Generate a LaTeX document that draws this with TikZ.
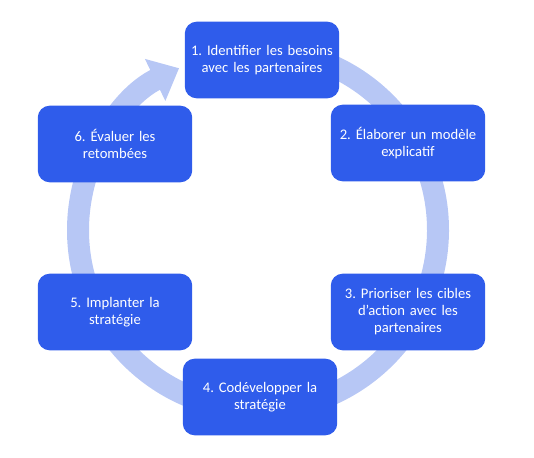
\documentclass[tikz,border=0pt]{standalone}
\usepackage{fontspec}
\setmainfont{Carlito}
\usepackage{tikz}
\usetikzlibrary{calc,arrows.meta,positioning}
\definecolor{phaseblue}{RGB}{47,92,235}
\definecolor{ringblue}{RGB}{183,199,245}
\frenchspacing

\begin{document}
\begin{tikzpicture}[>=Stealth,
    phase/.style={fill=phaseblue,rounded corners=0.36cm,minimum width=4.55cm,
      minimum height=2.3cm,text width=4.4cm,align=center,text=white,
      font=\fontsize{12.5}{14.5}\selectfont},
    ring/.style={ringblue,line width=0.66cm,-{Triangle[length=0.8cm,width=1.35cm]}}]
  \useasboundingbox (0,0) rectangle (16.02,13.71);
  \coordinate (c) at (7.74,6.81);
  % cycle behind the boxes
  \draw[ring] ($(c)+(85:5.4)$) arc[start angle=85,end angle=-244,radius=5.4];
  \node[phase] (s1) at (7.86,11.91) {1. Identifier les besoins\\avec les partenaires};
  \node[phase] (s2) at (12.24,9.42) {2. Élaborer un modèle\\explicatif};
  \node[phase] (s3) at (12.24,4.35) {3. Prioriser les cibles\\d’action avec les\\partenaires};
  \node[phase] (s4) at (7.80,1.80) {4. Codévelopper la\\stratégie};
  \node[phase] (s5) at (3.45,4.35) {5. Implanter la\\stratégie};
  \node[phase] (s6) at (3.45,9.39) {6. Évaluer les\\retombées};
\end{tikzpicture}
\end{document}
